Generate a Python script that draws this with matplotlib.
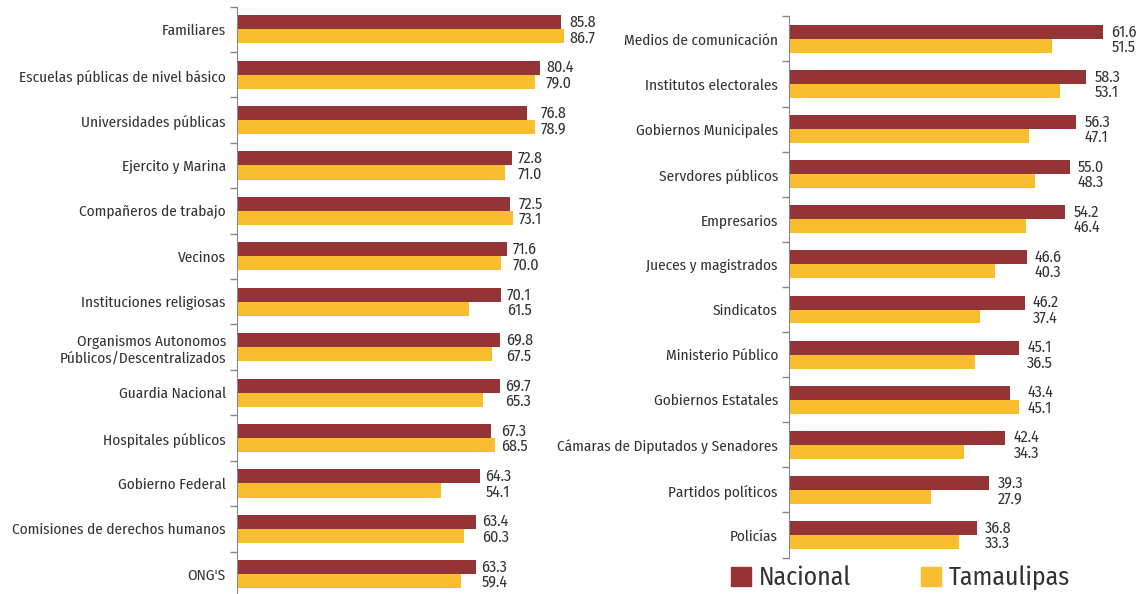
import numpy as np
import matplotlib.pyplot as plt
from matplotlib.patches import Patch
from matplotlib import font_manager as fm

# datos (porcentaje de confianza)
izq_cats = ["Familiares", "Escuelas públicas de nivel básico", "Universidades públicas",
            "Ejercito y Marina", "Compañeros de trabajo", "Vecinos",
            "Instituciones religiosas", "Organismos Autonomos\nPúblicos/Descentralizados",
            "Guardia Nacional", "Hospitales públicos", "Gobierno Federal",
            "Comisiones de derechos humanos", "ONG'S"]
izq_nacional = [85.8, 80.4, 76.8, 72.8, 72.5, 71.6, 70.1, 69.8, 69.7, 67.3, 64.3, 63.4, 63.3]
izq_tamaulipas = [86.7, 79.0, 78.9, 71.0, 73.1, 70.0, 61.5, 67.5, 65.3, 68.5, 54.1, 60.3, 59.4]

der_cats = ["Medios de comunicación", "Institutos electorales", "Gobiernos Municipales",
            "Servdores públicos", "Empresarios", "Jueces y magistrados", "Sindicatos",
            "Ministerio Público", "Gobiernos Estatales", "Cámaras de Diputados y Senadores",
            "Partidos políticos", "Policías"]
der_nacional = [61.6, 58.3, 56.3, 55.0, 54.2, 46.6, 46.2, 45.1, 43.4, 42.4, 39.3, 36.8]
der_tamaulipas = [51.5, 53.1, 47.1, 48.3, 46.4, 40.3, 37.4, 36.5, 45.1, 34.3, 27.9, 33.3]

ROJO = "#943434"
AMARILLO = "#F9BE2F"
TEXTO = "#333333"
GRIS = "#888888"

# fuente condensada, la primera que exista
instaladas = {f.name for f in fm.fontManager.ttflist}
candidatas = ['Fira Sans Condensed', 'Encode Sans Condensed', 'Roboto Condensed',
              'PT Sans Narrow', 'Archivo Narrow', 'Liberation Sans Narrow']
fuente = next((c for c in candidatas if c in instaladas), 'DejaVu Sans')
plt.rcParams['font.family'] = [fuente, 'DejaVu Sans']


def panel(ax, cats, nac, tam, xmax, off):
    n = len(cats)
    y = np.arange(n)
    h = 0.31
    ax.barh(y - h / 2, nac, height=h, color=ROJO)
    ax.barh(y + h / 2, tam, height=h, color=AMARILLO)
    for i in range(n):
        x = max(nac[i], tam[i]) + off
        ax.text(x, i - h / 2, f"{nac[i]:.1f}", va="center", ha="left", fontsize=11.5, color=TEXTO)
        ax.text(x, i + h / 2 + 0.03, f"{tam[i]:.1f}", va="center", ha="left", fontsize=11.5, color=TEXTO)
    ax.set_xlim(0, xmax)
    ax.set_ylim(n - 0.5, -0.5)
    ax.set_yticks(y)
    ax.set_yticklabels(cats, fontsize=11, color=TEXTO)
    ax.set_yticks(np.arange(n + 1) - 0.5, minor=True)
    ax.tick_params(axis="y", which="major", length=0, pad=8)
    ax.tick_params(axis="y", which="minor", length=5, color=GRIS, width=1)
    ax.set_xticks([])
    for s in ["top", "right", "bottom"]:
        ax.spines[s].set_visible(False)
    ax.spines["left"].set_color(GRIS)


fig = plt.figure(figsize=(11.46, 5.94), dpi=100)
ax1 = fig.add_axes([0.2068, -0.005, 0.316, 0.994])
ax2 = fig.add_axes([0.6885, 0.0614, 0.3115, 0.911])
panel(ax1, izq_cats, izq_nacional, izq_tamaulipas, 96, 1.5)
panel(ax2, der_cats, der_nacional, der_tamaulipas, 70, 1.6)

handles = [Patch(color=ROJO, label="Nacional"), Patch(color=AMARILLO, label="Tamaulipas")]
fig.legend(handles=handles, loc="center left", bbox_to_anchor=(0.6175, 0.027), ncol=2,
           frameon=False, fontsize=18.5, handlelength=0.78, handleheight=0.78,
           handletextpad=0.3, columnspacing=2.75, labelcolor=TEXTO)

fig.savefig("out.png", dpi=100)
